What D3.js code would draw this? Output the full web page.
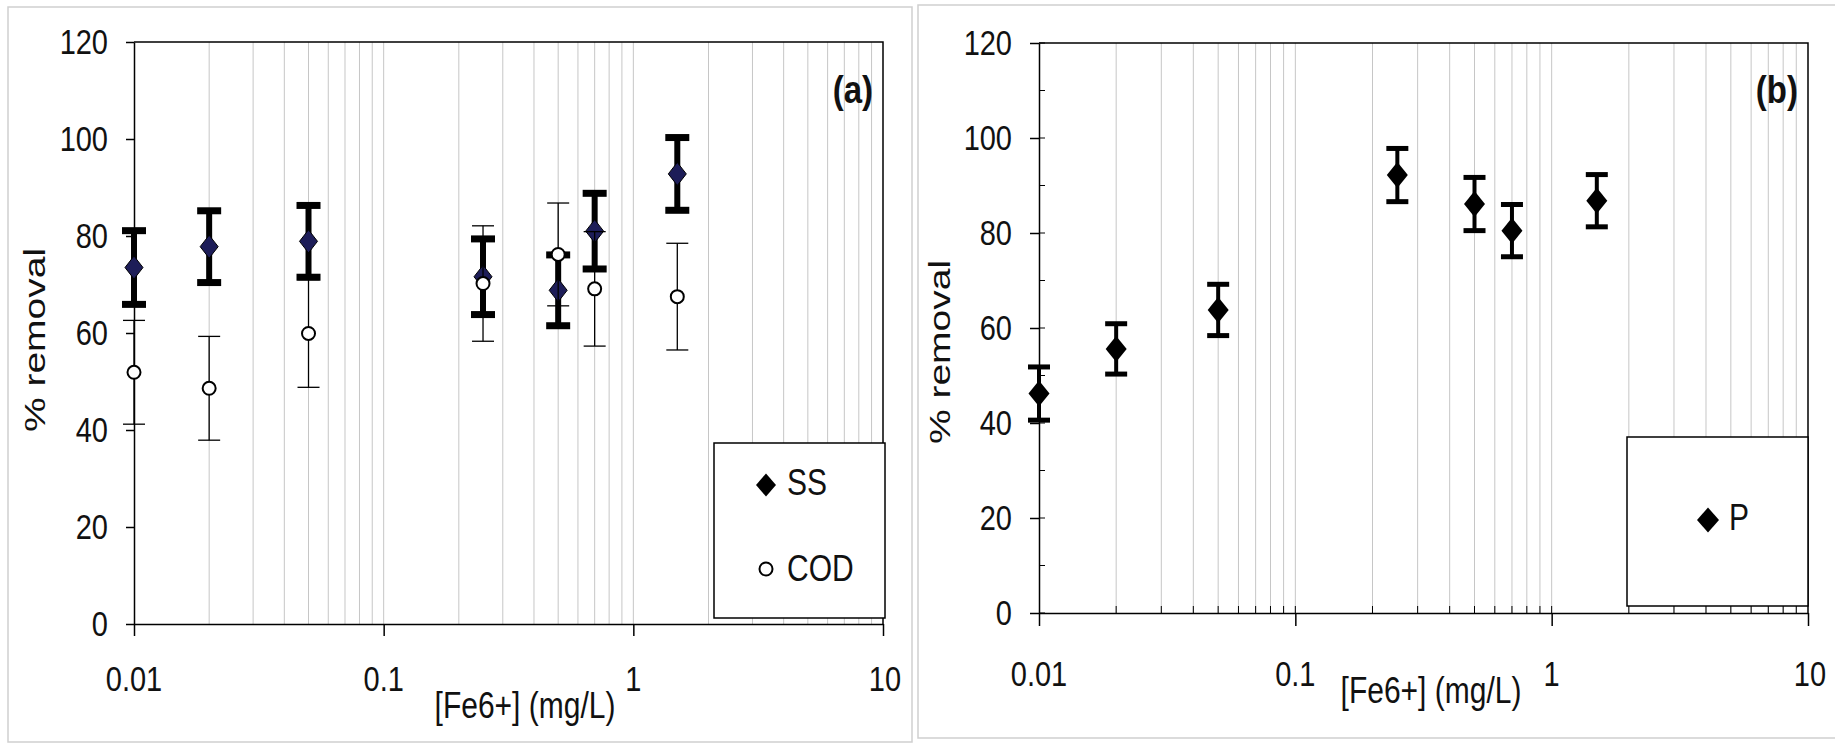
<!DOCTYPE html>
<html>
  <head>
    <meta charset="utf-8" />
    <title>Fe6+ removal</title>
    <script src="https://d3js.org/d3.v7.min.js"></script>
    <style>
      body {
        margin: 0;
        background-color: white;
      }
      text {
        font-family: "Liberation Sans", Arial, sans-serif;
        fill: #111;
      }
    </style>
  </head>
  <body>
    <svg id="chart"></svg>

    <script>

      // panel (a): SS and COD
      var concA = [0.01, 0.02, 0.05, 0.25, 0.5, 0.7, 1.5];
      var ssMean = [73.5, 77.8, 78.9, 71.6, 68.8, 81.0, 92.8];
      var ssErr = [7.6, 7.4, 7.4, 7.8, 7.3, 7.8, 7.5];
      var codMean = [51.9, 48.6, 59.9, 70.2, 76.2, 69.1, 67.5];
      var codErr = [10.7, 10.7, 11.1, 11.9, 10.6, 11.8, 11.0];

      // panel (b): P
      var concB = [0.01, 0.02, 0.05, 0.25, 0.5, 0.7, 1.5];
      var pMean = [46.2, 55.6, 63.8, 92.2, 86.1, 80.5, 86.8];
      var pErr = [5.6, 5.3, 5.4, 5.6, 5.6, 5.5, 5.5];

      var yTicks = [0, 20, 40, 60, 80, 100, 120];
      var yMinor = [10, 30, 50, 70, 90, 110];
      var xTicks = [0.01, 0.1, 1, 10];
      var xTickLabels = ["0.01", "0.1", "1", "10"];

      var width = 1835;
      var height = 746;
      var stretch = 1.2; // the original picture is squashed a little

      var svg = d3.select("#chart")
        .attr("width", width)
        .attr("height", height);

      function label(g, x, y, str, size, anchor, weight) {
        return g.append("text")
          .attr("transform", "translate(" + x + "," + y + ") scale(1," + stretch + ")")
          .attr("text-anchor", anchor || "middle")
          .attr("font-size", size + "px")
          .attr("font-weight", weight || "normal")
          .text(str);
      }

      function diamond(cx, cy, w, h) {
        return "M" + cx + "," + (cy - h / 2) + "L" + (cx + w / 2) + "," + cy +
          "L" + cx + "," + (cy + h / 2) + "L" + (cx - w / 2) + "," + cy + "Z";
      }

      function errorBars(g, xs, means, errs, x, y, stem, capW, capT) {
        var pts = xs.map(function(d, i) {
          return { x: d, lo: means[i] - errs[i], hi: means[i] + errs[i] };
        });
        g.selectAll(null).data(pts).enter().append("line")
          .attr("x1", function(d) { return x(d.x); })
          .attr("x2", function(d) { return x(d.x); })
          .attr("y1", function(d) { return y(d.lo); })
          .attr("y2", function(d) { return y(d.hi); })
          .attr("stroke", "black")
          .attr("stroke-width", stem);
        ["lo", "hi"].forEach(function(k) {
          g.selectAll(null).data(pts).enter().append("line")
            .attr("x1", function(d) { return x(d.x) - capW / 2; })
            .attr("x2", function(d) { return x(d.x) + capW / 2; })
            .attr("y1", function(d) { return y(d[k]); })
            .attr("y2", function(d) { return y(d[k]); })
            .attr("stroke", "black")
            .attr("stroke-width", capT);
        });
      }

      function drawPanel(p) {
        var g = svg.append("g");
        var x = p.x, y = p.y;
        var x0 = x.range()[0], x1 = x.range()[1];
        var y0 = y.range()[0], y1 = y.range()[1];

        // light outer frame
        g.append("rect")
          .attr("x", p.frame[0]).attr("y", p.frame[1])
          .attr("width", p.frame[2]).attr("height", p.frame[3])
          .attr("fill", "none")
          .attr("stroke", "#cfcfcf")
          .attr("stroke-width", 1.5);

        // vertical gridlines on every log step
        var grid = x.ticks().filter(function(d) { return d > 0.0101 && d < 9.99; });
        g.selectAll(null).data(grid).enter().append("line")
          .attr("x1", function(d) { return x(d); })
          .attr("x2", function(d) { return x(d); })
          .attr("y1", y(120))
          .attr("y2", y(0))
          .attr("stroke", "#c6c6c6")
          .attr("stroke-width", 1);

        // black box top and right
        g.append("path")
          .attr("d", "M" + x0 + "," + y1 + "H" + x1 + "V" + y0)
          .attr("fill", "none")
          .attr("stroke", "black")
          .attr("stroke-width", 1.5);

        // axes
        g.append("g")
          .attr("transform", "translate(" + x0 + ",0)")
          .call(d3.axisLeft(y).tickValues(yTicks).tickSize(p.yTickOut).tickSizeOuter(0).tickFormat(""))
          .call(function(a) { a.selectAll("path, line").attr("stroke", "black").attr("stroke-width", 1.5); });

        g.append("g")
          .attr("transform", "translate(0," + y0 + ")")
          .call(d3.axisBottom(x).tickValues(xTicks).tickSize(p.xTickOut).tickSizeOuter(0).tickFormat(""))
          .call(function(a) { a.selectAll("path, line").attr("stroke", "black").attr("stroke-width", 1.5); });

        if (p.inner) {
          // ticks reaching into the plot
          g.selectAll(null).data(yTicks.concat(yMinor)).enter().append("line")
            .attr("x1", x0).attr("x2", x0 + 6)
            .attr("y1", function(d) { return y(d); })
            .attr("y2", function(d) { return y(d); })
            .attr("stroke", "black");
          g.selectAll(null).data(grid).enter().append("line")
            .attr("x1", function(d) { return x(d); })
            .attr("x2", function(d) { return x(d); })
            .attr("y1", y0).attr("y2", y0 - 7)
            .attr("stroke", "black");
        }

        // tick labels
        yTicks.forEach(function(t) {
          label(g, x0 - p.yLabGap, y(t) + 12, String(t), 29, "end");
        });
        xTicks.forEach(function(t, i) {
          label(g, x(t) + (i === 3 ? 2 : 0), p.xLabBase, xTickLabels[i], 29);
        });

        // axis titles
        label(g, p.xTitle[0], p.xTitle[1], "[Fe6+] (mg/L)", 30);
        g.append("text")
          .attr("transform", "translate(" + p.yTitle[0] + "," + p.yTitle[1] + ") rotate(-90) scale(1.3,1)")
          .attr("text-anchor", "middle")
          .attr("font-size", "30px")
          .text("% removal");

        // panel letter
        label(g, x1 - 10, 103, p.letter, 33, "end", "bold");

        return g;
      }

      // ---------- panel (a)
      var xA = d3.scaleLog().domain([0.01, 10]).range([134, 883]);
      var yA = d3.scaleLinear().domain([0, 120]).range([624, 42]);

      var gA = drawPanel({
        x: xA, y: yA, frame: [8, 7, 904, 735],
        yTickOut: 8, xTickOut: 12, inner: false,
        yLabGap: 26, xLabBase: 691,
        xTitle: [525, 718], yTitle: [45, 340], letter: "(a)"
      });

      errorBars(gA, concA, ssMean, ssErr, xA, yA, 6, 24, 7);
      gA.selectAll(null).data(concA).enter().append("path")
        .attr("d", function(d, i) { return diamond(xA(d), yA(ssMean[i]), 18, 23); })
        .attr("fill", "#1d1d58")
        .attr("stroke", "black")
        .attr("stroke-width", 1);

      errorBars(gA, concA, codMean, codErr, xA, yA, 1.3, 22, 1.3);
      gA.selectAll(null).data(concA).enter().append("circle")
        .attr("cx", function(d) { return xA(d); })
        .attr("cy", function(d, i) { return yA(codMean[i]); })
        .attr("r", 6.5)
        .attr("fill", "white")
        .attr("stroke", "black")
        .attr("stroke-width", 2);

      // legend (a)
      var legA = gA.append("g");
      legA.append("rect")
        .attr("x", 714).attr("y", 443).attr("width", 171).attr("height", 175)
        .attr("fill", "white").attr("stroke", "black").attr("stroke-width", 1.5);
      legA.append("path").attr("d", diamond(766, 485, 20, 23)).attr("fill", "black");
      label(legA, 787, 495, "SS", 30, "start");
      legA.append("circle").attr("cx", 766).attr("cy", 569).attr("r", 6.5)
        .attr("fill", "white").attr("stroke", "black").attr("stroke-width", 2);
      label(legA, 787, 581, "COD", 30, "start");

      // ---------- panel (b)
      var xB = d3.scaleLog().domain([0.01, 10]).range([1039, 1808]);
      var yB = d3.scaleLinear().domain([0, 120]).range([613, 43]);

      var gB = drawPanel({
        x: xB, y: yB, frame: [918, 5, 920, 733],
        yTickOut: 9, xTickOut: 13, inner: true,
        yLabGap: 27, xLabBase: 686,
        xTitle: [1431, 703], yTitle: [950, 352], letter: "(b)"
      });

      errorBars(gB, concB, pMean, pErr, xB, yB, 4, 22, 5);
      gB.selectAll(null).data(concB).enter().append("path")
        .attr("d", function(d, i) { return diamond(xB(d), yB(pMean[i]), 21, 26); })
        .attr("fill", "black");

      // legend (b)
      var legB = gB.append("g");
      legB.append("rect")
        .attr("x", 1627).attr("y", 437).attr("width", 181).attr("height", 169)
        .attr("fill", "white").attr("stroke", "black").attr("stroke-width", 1.5);
      legB.append("path").attr("d", diamond(1708, 520, 22, 25)).attr("fill", "black");
      label(legB, 1729, 530, "P", 30, "start");

    </script>
  </body>
</html>
